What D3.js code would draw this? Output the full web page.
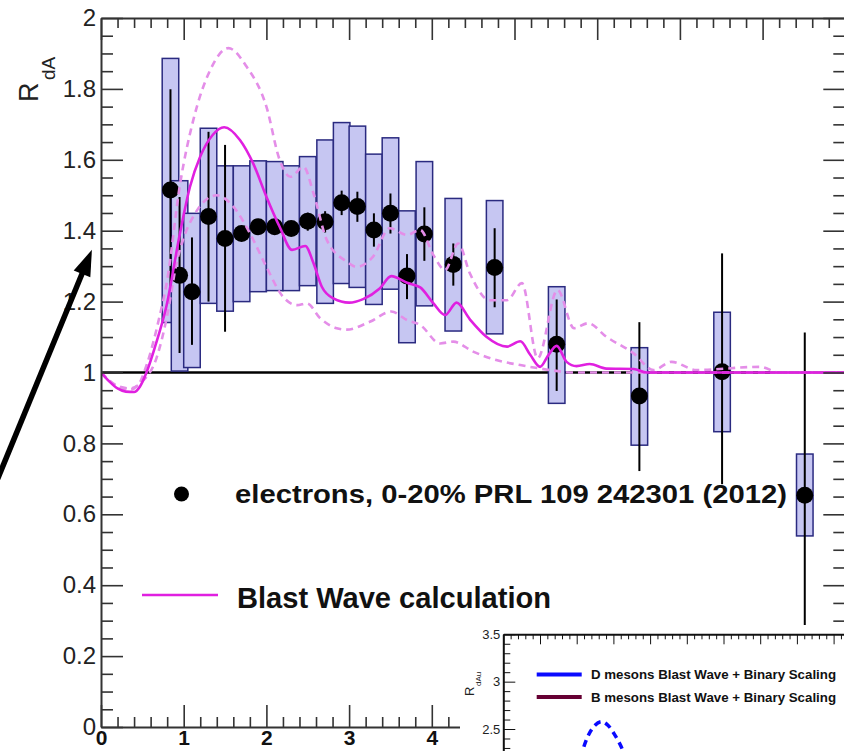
<!DOCTYPE html>
<html>
<head>
<meta charset="utf-8">
<style>
body { margin: 0; background: #fff; }
svg { display: block; font-family: "Liberation Sans", Arial, Helvetica, sans-serif; }
.axis path, .axis line { stroke: #333; }
.frame path { stroke-width: 2px; }
.axis line { stroke-width: 1.6px; }
.ylab text { font-size: 24px; fill: #222; }
.xlab text { font-size: 21px; font-weight: bold; fill: #111; }
.iaxis .domain, .iaxis .tick line { stroke: #111; }
.iaxis text { font-size: 13px; fill: #222; }
.bw { fill: none; stroke: #e020e0; stroke-width: 2.6px; }
.bwband { fill: none; stroke: #e48ee8; stroke-width: 2.6px; stroke-dasharray: 7,5; }
</style>
<script src="https://d3js.org/d3.v7.min.js"></script>
</head>
<body>
<svg id="chart" width="844" height="751"></svg>
<script>

// electron R_dA points (0-20%)
var ptX  = [0.84, 0.95, 1.10, 1.30, 1.50, 1.70, 1.90, 2.10, 2.30, 2.50, 2.71, 2.91, 3.10, 3.30, 3.50, 3.70, 3.91, 4.26, 4.76, 5.51, 6.51, 7.51, 8.51];
var ptY  = [1.515, 1.274, 1.228, 1.440, 1.378, 1.392, 1.411, 1.411, 1.406, 1.427, 1.425, 1.479, 1.468, 1.402, 1.449, 1.272, 1.391, 1.305, 1.296, 1.080, 0.934, 1.002, 0.654];
var statHi = [1.799, 1.495, 1.381, 1.679, 1.642, 1.410, 1.425, 1.425, 1.420, 1.451, 1.455, 1.513, 1.510, 1.449, 1.505, 1.334, 1.466, 1.364, 1.407, 1.206, 1.142, 1.336, 1.113];
var statLo = [1.231, 1.055, 1.078, 1.200, 1.115, 1.375, 1.397, 1.397, 1.392, 1.400, 1.395, 1.444, 1.425, 1.355, 1.392, 1.207, 1.315, 1.245, 1.184, 0.948, 0.722, 0.685, 0.283];
var sysHi = [1.886, 1.541, 1.449, 1.689, 1.583, 1.583, 1.597, 1.595, 1.583, 1.609, 1.656, 1.705, 1.695, 1.616, 1.662, 1.456, 1.595, 1.491, 1.485, 1.242, 1.070, 1.170, 0.770];
var sysLo = [1.141, 1.004, 1.014, 1.195, 1.173, 1.200, 1.228, 1.231, 1.231, 1.245, 1.195, 1.251, 1.240, 1.192, 1.235, 1.084, 1.188, 1.117, 1.109, 0.913, 0.795, 0.833, 0.539];
var boxHalf = 0.1;

// Blast Wave calculation, central and band edges
var bwX = [0, 0.1, 0.2, 0.3, 0.4, 0.47, 0.55, 0.65, 0.79, 0.955, 1.076, 1.2, 1.35, 1.49, 1.68, 1.84, 2.0, 2.16, 2.31, 2.47, 2.57, 2.67, 2.81, 3.0, 3.17, 3.37, 3.51, 3.7, 3.86, 4.02, 4.16, 4.3, 4.46, 4.66, 4.91, 5.07, 5.19, 5.31, 5.41, 5.51, 5.63, 5.75, 5.91, 6.11, 6.44, 6.6, 9.0];
var bwY = [1.0, 0.975, 0.955, 0.946, 0.945, 0.96, 1.0, 1.07, 1.186, 1.393, 1.524, 1.609, 1.67, 1.692, 1.656, 1.59, 1.496, 1.411, 1.346, 1.357, 1.308, 1.242, 1.209, 1.197, 1.207, 1.237, 1.272, 1.253, 1.24, 1.195, 1.162, 1.197, 1.15, 1.101, 1.073, 1.088, 1.05, 1.016, 1.049, 1.075, 1.03, 1.018, 1.024, 1.011, 1.01, 1.0, 1.0];
var upX = [0, 0.2, 0.35, 0.45, 0.55, 0.7, 0.8, 0.955, 1.116, 1.32, 1.54, 1.76, 2.0, 2.16, 2.29, 2.45, 2.57, 2.73, 2.97, 3.09, 3.29, 3.49, 3.7, 3.86, 4.02, 4.16, 4.32, 4.46, 4.7, 4.91, 5.09, 5.28, 5.52, 5.72, 5.89, 6.11, 6.44, 6.68, 6.9, 7.2, 7.97, 8.2, 9.0];
var upY = [1.0, 0.96, 0.952, 0.965, 1.02, 1.15, 1.26, 1.53, 1.712, 1.853, 1.915, 1.863, 1.75, 1.6, 1.552, 1.58, 1.505, 1.374, 1.313, 1.298, 1.327, 1.407, 1.388, 1.402, 1.331, 1.289, 1.364, 1.28, 1.204, 1.204, 1.252, 1.04, 1.233, 1.125, 1.139, 1.101, 1.054, 1.007, 1.03, 1.007, 1.016, 1.0, 1.0];
var loX = [0, 0.2, 0.35, 0.5, 0.67, 0.8, 0.915, 1.0, 1.116, 1.4, 1.6, 1.8, 2.0, 2.2, 2.37, 2.49, 2.65, 2.85, 2.97, 3.25, 3.51, 3.7, 3.86, 4.1, 4.26, 4.5, 4.78, 5.07, 5.4, 5.7, 9.0];
var loY = [1.0, 0.962, 0.955, 0.975, 1.04, 1.16, 1.31, 1.38, 1.44, 1.5, 1.468, 1.393, 1.298, 1.214, 1.19, 1.195, 1.153, 1.125, 1.121, 1.143, 1.172, 1.148, 1.134, 1.082, 1.087, 1.059, 1.035, 1.021, 1.008, 1.0, 1.0];

// ticks of the main frame (labels only where the picture shows them)
var xTicks = [0, 1, 2, 3, 4, 5, 6, 7, 8, 9];
var xLabels = ["0", "1", "2", "3", "4"];
var yTicks = [0, 0.2, 0.4, 0.6, 0.8, 1, 1.2, 1.4, 1.6, 1.8, 2];

// arrow annotation, in data coordinates
var arrowFrom = [-1.25, 0.70];
var arrowTo = [-0.11, 1.346];

// inset: D meson curve (only the top of it is visible)
var insetX = [1.9, 2.1, 2.3, 2.5, 2.68, 2.85, 3.05, 3.25, 3.45];
var insetD = [1.95, 2.2, 2.42, 2.54, 2.578, 2.54, 2.43, 2.28, 2.05];
var insetYTicks = [2.5, 3, 3.5];
var insetLegend = ["D mesons Blast Wave + Binary Scaling", "B mesons Blast Wave + Binary Scaling"];
var insetColors = ["#0a0aff", "#660033"];

/**
 * Build a list of minor tick values between majors.
 */
function minorTicks(lo, hi, step, majorStep) {
  var out = [];
  var n = Math.round((hi - lo) / step);
  for (var i = 0; i <= n; i++) {
    var v = +(lo + i * step).toFixed(4);
    var r = v / majorStep;
    if (Math.abs(r - Math.round(r)) > 1e-6) out.push(v);
  }
  return out;
}

function zip(xs, ys) {
  return xs.map(function(v, i) { return [v, ys[i]]; });
}

var svg = d3.select("#chart");
var x = d3.scaleLinear().domain([0, 9]).range([101, 845.3]);
var y = d3.scaleLinear().domain([0, 2]).range([727, 18]);

svg.append("defs").append("clipPath").attr("id", "plotclip")
  .append("rect")
  .attr("x", x(0)).attr("y", y(2))
  .attr("width", x(9) - x(0)).attr("height", y(0) - y(2));

var plot = svg.append("g").attr("clip-path", "url(#plotclip)");

// reference line at R = 1
plot.append("line")
  .attr("x1", x(0)).attr("x2", x(9))
  .attr("y1", y(1)).attr("y2", y(1))
  .attr("stroke", "#000").attr("stroke-width", 2.5);

// systematic boxes
plot.selectAll("rect.sys").data(ptX).enter().append("rect")
  .attr("class", "sys")
  .attr("x", function(d) { return x(d - boxHalf); })
  .attr("width", function(d) { return x(d + boxHalf) - x(d - boxHalf); })
  .attr("y", function(d, i) { return y(sysHi[i]); })
  .attr("height", function(d, i) { return y(sysLo[i]) - y(sysHi[i]); })
  .attr("fill", "#c6c6f2")
  .attr("stroke", "#2a2a80")
  .attr("stroke-width", 1.5);

// statistical error bars
plot.selectAll("line.stat").data(ptX).enter().append("line")
  .attr("class", "stat")
  .attr("x1", function(d) { return x(d); })
  .attr("x2", function(d) { return x(d); })
  .attr("y1", function(d, i) { return y(statHi[i]); })
  .attr("y2", function(d, i) { return y(statLo[i]); })
  .attr("stroke", "#000")
  .attr("stroke-width", 2);

// points
plot.selectAll("circle.pt").data(ptX).enter().append("circle")
  .attr("class", "pt")
  .attr("cx", function(d) { return x(d); })
  .attr("cy", function(d, i) { return y(ptY[i]); })
  .attr("r", 8.5)
  .attr("fill", "#000");

// Blast Wave curves on top
var line = d3.line()
  .curve(d3.curveMonotoneX)
  .x(function(d) { return x(d[0]); })
  .y(function(d) { return y(d[1]); });

plot.append("path").datum(zip(loX, loY)).attr("class", "bwband").attr("d", line);
plot.append("path").datum(zip(upX, upY)).attr("class", "bwband").attr("d", line);
plot.append("path").datum(zip(bwX, bwY)).attr("class", "bw").attr("d", line);

// axes: left with labels, right/top without, bottom with bold labels
svg.append("g")
  .attr("class", "axis frame ylab")
  .attr("transform", "translate(" + x(0) + ",0)")
  .call(d3.axisLeft(y).tickValues(yTicks).tickSizeInner(-22).tickSizeOuter(0).tickPadding(5).tickFormat(d3.format("~g")))
  .attr("font-size", 24).attr("font-family", null);
svg.append("g")
  .attr("class", "axis")
  .attr("transform", "translate(" + x(0) + ",0)")
  .call(d3.axisLeft(y).tickValues(minorTicks(0, 2, 0.05, 0.2)).tickSizeInner(-12).tickSizeOuter(0).tickFormat(""))
  .select(".domain").remove();

svg.append("g")
  .attr("class", "axis frame")
  .attr("transform", "translate(" + x(9) + ",0)")
  .call(d3.axisRight(y).tickValues(yTicks).tickSizeInner(-22).tickSizeOuter(0).tickFormat(""));
svg.append("g")
  .attr("class", "axis")
  .attr("transform", "translate(" + x(9) + ",0)")
  .call(d3.axisRight(y).tickValues(minorTicks(0, 2, 0.05, 0.2)).tickSizeInner(-12).tickSizeOuter(0).tickFormat(""))
  .select(".domain").remove();

svg.append("g")
  .attr("class", "axis frame")
  .attr("transform", "translate(0," + y(2) + ")")
  .call(d3.axisTop(x).tickValues(xTicks).tickSizeInner(-22).tickSizeOuter(0).tickFormat(""));
svg.append("g")
  .attr("class", "axis")
  .attr("transform", "translate(0," + y(2) + ")")
  .call(d3.axisTop(x).tickValues(minorTicks(0, 9, 0.2, 1)).tickSizeInner(-10).tickSizeOuter(0).tickFormat(""))
  .select(".domain").remove();

var xAxisG = svg.append("g")
  .attr("class", "axis frame xlab")
  .attr("transform", "translate(0," + y(0) + ")")
  .call(d3.axisBottom(x).tickValues(xTicks).tickSizeInner(-22).tickSizeOuter(0).tickPadding(3)
    .tickFormat(function(d, i) { return xLabels[i] || ""; }))
  .attr("font-size", 21).attr("font-family", null);
xAxisG.selectAll(".tick text").filter(function() { return this.textContent === ""; }).remove();
svg.append("g")
  .attr("class", "axis")
  .attr("transform", "translate(0," + y(0) + ")")
  .call(d3.axisBottom(x).tickValues(minorTicks(0, 9, 0.2, 1)).tickSizeInner(-10).tickSizeOuter(0).tickFormat(""))
  .select(".domain").remove();

// axis title R_dA (rotated)
svg.append("text")
  .attr("transform", "translate(38,102) rotate(-90)")
  .attr("font-size", 27).attr("fill", "#222")
  .text("R");
svg.append("text")
  .attr("transform", "translate(55,80) rotate(-90)")
  .attr("font-size", 19).attr("fill", "#222")
  .text("dA");

// legend
svg.append("circle").attr("cx", 181.5).attr("cy", 494).attr("r", 7.5).attr("fill", "#000");
svg.append("text")
  .attr("x", 235).attr("y", 503)
  .attr("font-size", 26).attr("font-weight", "bold").attr("fill", "#111")
  .attr("textLength", 552).attr("lengthAdjust", "spacingAndGlyphs")
  .text("electrons, 0-20% PRL 109 242301 (2012)");
svg.append("line")
  .attr("x1", 142).attr("x2", 218).attr("y1", 595).attr("y2", 595)
  .attr("class", "bw");
svg.append("text")
  .attr("x", 237).attr("y", 608)
  .attr("font-size", 29).attr("font-weight", "bold").attr("fill", "#111")
  .attr("textLength", 314).attr("lengthAdjust", "spacingAndGlyphs")
  .text("Blast Wave calculation");

// arrow
var a0 = [x(arrowFrom[0]), y(arrowFrom[1])];
var a1 = [x(arrowTo[0]), y(arrowTo[1])];
var dx = a1[0] - a0[0], dy = a1[1] - a0[1];
var len = Math.sqrt(dx * dx + dy * dy);
var ux = dx / len, uy = dy / len;
var headLen = 26, headW = 9;
var base = [a1[0] - ux * headLen, a1[1] - uy * headLen];
svg.append("line")
  .attr("x1", a0[0]).attr("y1", a0[1])
  .attr("x2", base[0] + ux * 2).attr("y2", base[1] + uy * 2)
  .attr("stroke", "#000").attr("stroke-width", 5.5);
svg.append("path")
  .attr("d", "M" + a1[0] + "," + a1[1] +
    "L" + (base[0] - uy * headW) + "," + (base[1] + ux * headW) +
    "L" + (base[0] + uy * headW) + "," + (base[1] - ux * headW) + "Z")
  .attr("fill", "#000");

// ---- inset (second canvas pasted at lower right) ----
var inset = svg.append("g").attr("class", "inset");
inset.append("rect")
  .attr("x", 460).attr("y", 625).attr("width", 400).attr("height", 140)
  .attr("fill", "#fff");

var ix = d3.scaleLinear().domain([0, 10]).range([503.3, 870.3]);
var iy = d3.scaleLinear().domain([0, 3.5]).range([965.8, 634.3]);

inset.append("defs").append("clipPath").attr("id", "insetclip")
  .append("rect").attr("x", ix(0)).attr("y", iy(3.5)).attr("width", 400).attr("height", 200);

inset.append("g")
  .attr("clip-path", "url(#insetclip)")
  .append("path")
  .datum(zip(insetX, insetD))
  .attr("fill", "none")
  .attr("stroke", insetColors[0])
  .attr("stroke-width", 3.5)
  .attr("stroke-dasharray", "7,5")
  .attr("d", d3.line().curve(d3.curveMonotoneX)
    .x(function(d) { return ix(d[0]); })
    .y(function(d) { return iy(d[1]); }));

inset.append("g")
  .attr("class", "iaxis frame")
  .attr("transform", "translate(" + ix(0) + ",0)")
  .call(d3.axisLeft(iy).tickValues(insetYTicks).tickSizeInner(-12).tickSizeOuter(0).tickPadding(3).tickFormat(d3.format("~g")))
  .attr("font-size", 13).attr("font-family", null);
inset.append("g")
  .attr("class", "iaxis")
  .attr("transform", "translate(" + ix(0) + ",0)")
  .call(d3.axisLeft(iy).tickValues(minorTicks(2.2, 3.5, 0.1, 0.5)).tickSizeInner(-7).tickSizeOuter(0).tickFormat(""))
  .select(".domain").remove();
inset.append("g")
  .attr("class", "iaxis frame")
  .attr("transform", "translate(0," + iy(3.5) + ")")
  .call(d3.axisTop(ix).tickValues(d3.range(0, 11)).tickSizeInner(-10).tickSizeOuter(0).tickFormat(""));
inset.append("g")
  .attr("class", "iaxis")
  .attr("transform", "translate(0," + iy(3.5) + ")")
  .call(d3.axisTop(ix).tickValues(minorTicks(0, 10, 0.2, 1)).tickSizeInner(-5).tickSizeOuter(0).tickFormat(""))
  .select(".domain").remove();

inset.append("text")
  .attr("transform", "translate(474,696) rotate(-90)")
  .attr("font-size", 13).attr("fill", "#222")
  .text("R");
inset.append("text")
  .attr("transform", "translate(481,686) rotate(-90)")
  .attr("font-size", 8).attr("fill", "#222")
  .text("dAu");

insetLegend.forEach(function(label, i) {
  var yy = 674.5 + i * 22.5;
  inset.append("line")
    .attr("x1", 536.7).attr("x2", 581.7).attr("y1", yy).attr("y2", yy)
    .attr("stroke", insetColors[i]).attr("stroke-width", 4);
  inset.append("text")
    .attr("x", 591).attr("y", yy + 4.5)
    .attr("font-weight", "bold").attr("font-size", 13.2).attr("fill", "#111")
    .attr("textLength", 245).attr("lengthAdjust", "spacingAndGlyphs")
    .text(label);
});

</script>
</body>
</html>
